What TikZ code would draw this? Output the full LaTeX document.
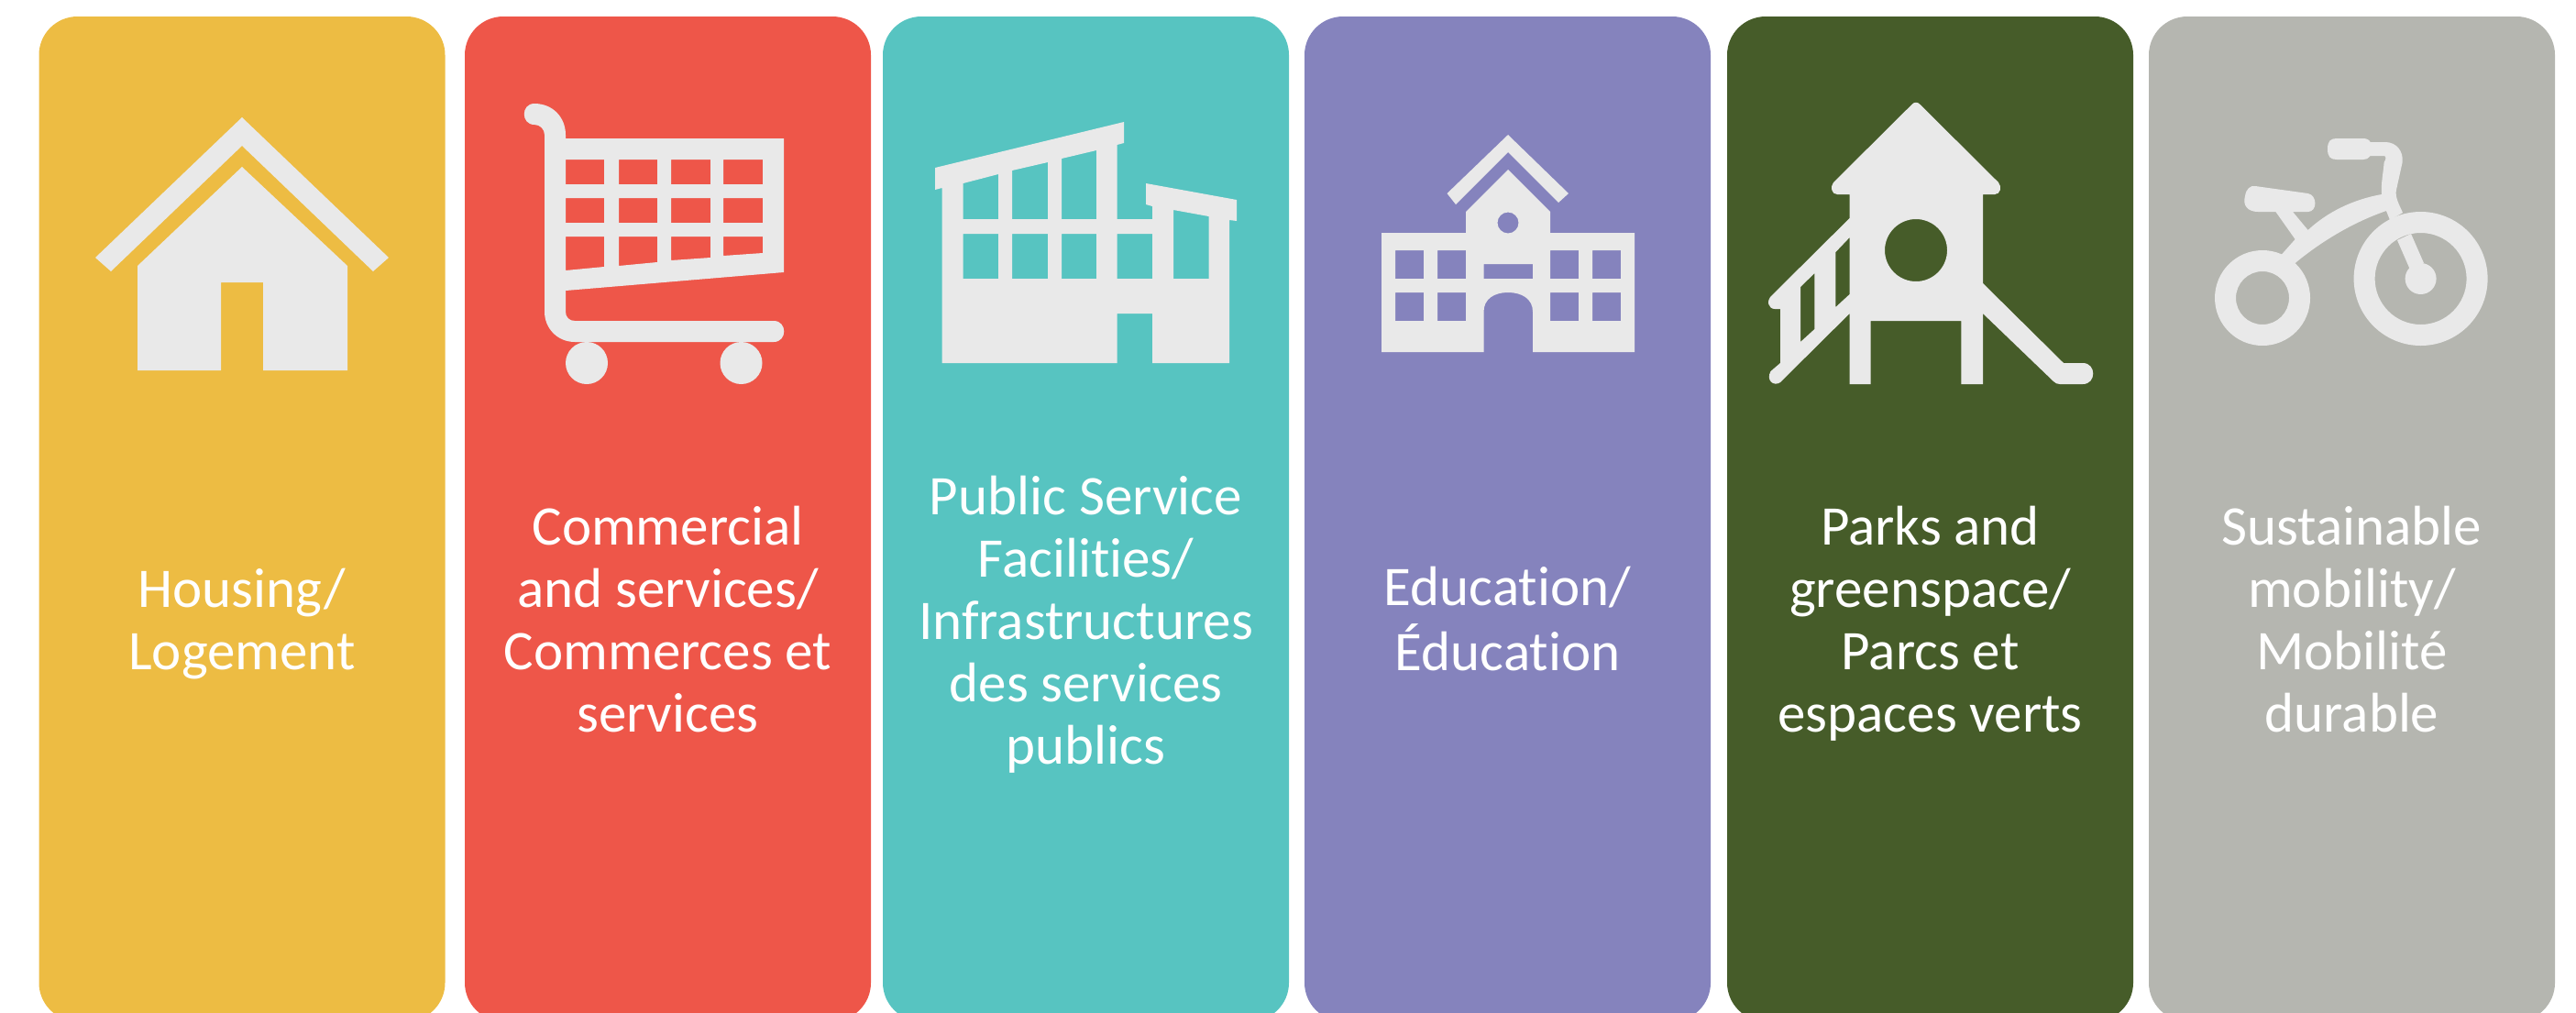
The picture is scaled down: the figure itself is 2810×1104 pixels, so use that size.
\documentclass[tikz,border=0pt]{standalone}
\usepackage{fontspec}
\setmainfont[Ligatures=NoCommon]{Carlito}
\newcommand\lst{\rule[-20pt]{0pt}{68pt}}
\definecolor{cyellow}{HTML}{EDBC43}
\definecolor{cred}{HTML}{EE5649}
\definecolor{cteal}{HTML}{57C4C1}
\definecolor{cpurple}{HTML}{8583BD}
\definecolor{cgreen}{HTML}{465C29}
\definecolor{cgrey}{HTML}{B5B6B0}
\definecolor{iconc}{HTML}{E9E9E9}
\tikzset{
  panel/.style={draw=none,minimum width=443pt,minimum height=1096pt,rounded corners=42pt,inner sep=0pt,outer sep=0pt},
  lab/.style={text=white,align=center,inner sep=0pt,font=\fontsize{61}{68}\selectfont},
  icon/.style={fill=iconc,draw=none,even odd rule},
}
\begin{document}
\begin{tikzpicture}[x=1pt,y=-1pt]
\useasboundingbox (0,0) rectangle (2810,1104);
\clip (0,0) rectangle (2810,1104);
% panels
\node[panel,fill=cyellow] (p1) at (264,566) {};
\node[panel,fill=cred] (p2) at (728.5,566) {};
\node[panel,fill=cteal] (p3) at (1184.5,566) {};
\node[panel,fill=cpurple] (p4) at (1644.5,566) {};
\node[panel,fill=cgreen] (p5) at (2105.5,566) {};
\node[panel,fill=cgrey] (p6) at (2565.5,566) {};
% labels
\node[lab] (t1) at (264,682) {\lst Housing/\\\lst Logement};
\node[lab] (t2) at (728.5,682) {\lst Commercial\\and services/\\Commerces et\\\lst services};
\node[lab] (t3) at (1184.5,683) {\lst Public Service\\Facilities/\\Infrastructures\\des services\\\lst publics};
\node[lab] (t4) at (1644.5,682) {\lst Education/\\\lst Éducation};
\node[lab] (t5) at (2105.5,682) {\lst Parks and\\greenspace/\\Parcs et\\\lst espaces verts};
\node[lab] (t6) at (2565.5,682) {\lst Sustainable\\mobility/\\Mobilité\\\lst durable};
% house
\fill[icon] (264,128)--(424,281)--(407,296)--(264,159)--(121,296)--(104,281)--cycle;
\fill[icon] (264,182)--(379,290)--(379,404)--(287,404)--(287,308)--(241,308)--(241,404)--(150,404)--(150,290)--cycle;
% cart
\fill[icon] (583,113) .. controls (603,113) and (617,128) .. (617,147) -- (617,151)--(855,151)--(855,297)--(617,317)--(617,340)
  .. controls (617,346) and (621,350) .. (627,350) -- (844,350)
  .. controls (859,350) and (859,373) .. (844,373) -- (627,373)
  .. controls (608,373) and (594,358) .. (594,340) -- (594,147)
  .. controls (594,141) and (589,136) .. (583,136)
  .. controls (568,136) and (568,113) .. (583,113) -- cycle
  (617,174) rectangle (659,201) (675,174) rectangle (717,201) (732,174) rectangle (775,201) (789,174) rectangle (832,201)
  (617,216) rectangle (659,243) (675,216) rectangle (717,243) (732,216) rectangle (775,243) (789,216) rectangle (832,243)
  (617,258)--(659,258)--(659,291)--(617,295)--cycle
  (675,258)--(717,258)--(717,286)--(675,290)--cycle
  (732,258)--(775,258)--(775,281)--(732,284)--cycle
  (789,258)--(832,258)--(832,276)--(789,279)--cycle;
\fill[icon] (640,396) circle (23) (808.5,396) circle (23);
% public building
\fill[icon] (1020,183)--(1226,133)--(1226,156)--(1218.5,158)--(1218.5,239)--(1257,239)--(1257,225)--(1250,223)--(1250,200)--(1349,218)--(1349,241)--(1341,240)--(1341,396)--(1257,396)--(1257,342)--(1218.5,342)--(1218.5,396)--(1027.5,396)--(1027.5,205)--(1020,207)--cycle
  (1050.6,200)--(1089,190)--(1089,239)--(1050.6,239)--cycle
  (1104,186)--(1143,177)--(1143,239)--(1104,239)--cycle
  (1158,173)--(1196,164)--(1196,239)--(1158,239)--cycle
  (1050.6,255) rectangle (1089,304) (1104,255) rectangle (1143,304) (1158,255) rectangle (1196,304) (1218.5,255) rectangle (1257,304)
  (1280,229)--(1318.5,236)--(1318.5,304)--(1280,304)--cycle;
% school
\fill[icon] (1645,147)--(1711,211)--(1700,221)--(1645,166)--(1588,223)--(1578.5,211)--cycle;
\fill[icon] (1645,185)--(1691,231)--(1691,254)--(1783,254)--(1783,384)--(1672,384)--(1672,340)
  .. controls (1672,326) and (1660,319) .. (1645,319) .. controls (1630,319) and (1618.5,326) .. (1618.5,340)
  --(1618.5,384)--(1507,384)--(1507,254)--(1599,254)--(1599,231)--cycle
  (1645,243) circle (11.5)
  (1522,273) rectangle (1553,304) (1568,273) rectangle (1599,304) (1691,273) rectangle (1722,304) (1737,273) rectangle (1768,304)
  (1522,319) rectangle (1553,350) (1568,319) rectangle (1599,350) (1691,319) rectangle (1722,350) (1737,319) rectangle (1768,350)
  (1618.5,288) rectangle (1672,304);
% playground
\fill[icon] (2085.5,114) .. controls (2088,111) and (2092,111) .. (2094.5,114) -- (2180,199)
  .. controls (2184,204) and (2182,212) .. (2176,212) -- (2163,212) -- (2163,309) -- (2251,396) -- (2272,396)
  .. controls (2287,396) and (2287,419) .. (2272,419) -- (2247,419) .. controls (2244,419) and (2242,418) .. (2240,416)
  -- (2163,342) -- (2163,419) -- (2139.4,419) -- (2139.4,350) -- (2040.6,350) -- (2040.6,419) -- (2017.6,419) -- (2017.6,342)
  -- (1942,417) .. controls (1935,422) and (1926,415) .. (1931.5,405) -- (1942,396) -- (1942,337) -- (1936,337)
  .. controls (1929,337) and (1926,328) .. (1933,322) -- (2017.6,238) -- (2017.6,212) -- (2004,212)
  .. controls (1998,212) and (1996,204) .. (2000,199) -- cycle
  (2090,273) circle (34)
  (2002.4,275)--(2017.6,259)--(2017.6,321)--(2002.4,335)--cycle
  (1964,313)--(1979.4,298)--(1979.4,359)--(1964,373)--cycle;
% tricycle
\fill[icon] (2468,325) circle (52) (2468,325) circle (29);
\fill[icon] (2640.6,304) circle (73) (2640.6,304) circle (50);
\fill[icon] (2640.6,304) circle (17);
\fill[icon] (2630,255)--(2644,287)--(2628.5,293)--(2615,262)--cycle;
\fill[icon] (2539,162.5) .. controls (2539,154) and (2542,151) .. (2549,151) -- (2578,151) .. controls (2582,151) and (2585,153) .. (2585.5,155)
  -- (2602,155) .. controls (2614,155) and (2622,165) .. (2620.6,177) -- (2614,207) .. controls (2612,215) and (2618,225) .. (2621,232)
  -- (2607,240) -- (2603,230) .. controls (2565,243) and (2530,265) .. (2503.6,287) -- (2488.5,278) -- (2503.6,261)
  -- (2482.4,231) -- (2463,231) .. controls (2452,231) and (2446,224) .. (2449,214) .. controls (2450,206) and (2455,202) .. (2460,203)
  -- (2517.6,211) .. controls (2528,213) and (2528,231) .. (2517.6,231) -- (2501,231) -- (2517.6,251)
  .. controls (2538,232) and (2565,218) .. (2598,212) .. controls (2597,200) and (2600,187) .. (2600.6,177)
  .. controls (2603,174) and (2603,170) .. (2600.6,170) -- (2585.5,170) .. controls (2584,173) and (2581,174) .. (2578,174)
  -- (2549,174) .. controls (2542,174) and (2539,171) .. (2539,162.5) -- cycle;
\end{tikzpicture}
\end{document}
